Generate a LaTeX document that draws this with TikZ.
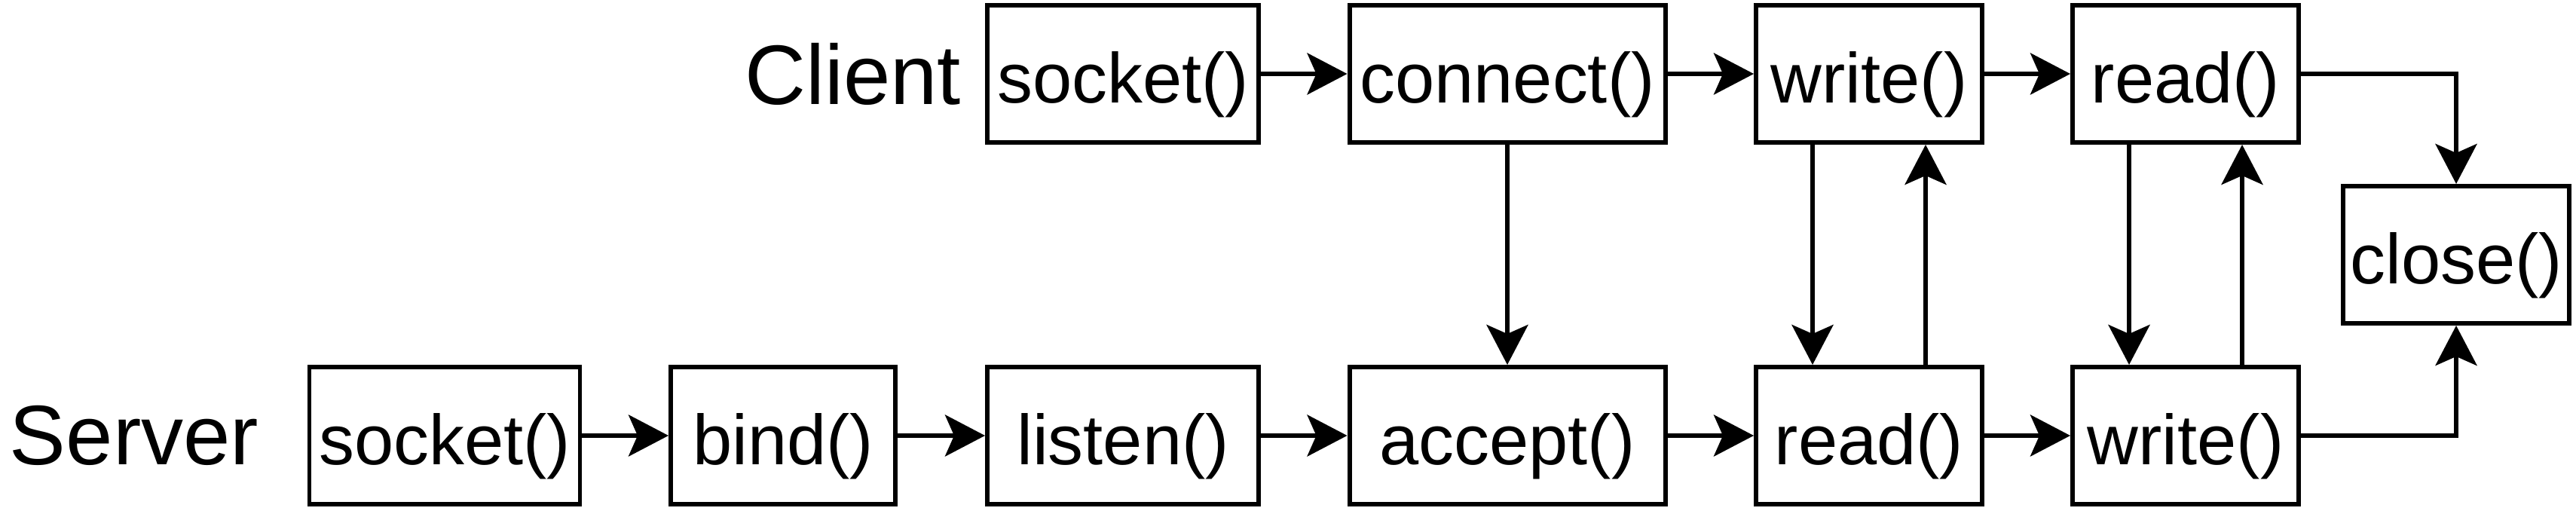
\documentclass[tikz,border=0pt]{standalone}
\usepackage{fontspec}
\setmainfont{Liberation Sans}
\usepackage{tikz}
\usetikzlibrary{arrows.meta}

\begin{document}
\begin{tikzpicture}[->, >={Stealth[length=0.53cm, width=0.55cm, inset=0.12cm]}, line width=1.7pt,
    box/.style={draw, line width=1.7pt, rectangle, inner sep=0pt, minimum height=1.82cm,
      minimum width=3cm, text height=0.98cm, text depth=0.2cm, font=\fontsize{26.7}{30}\selectfont},
    side/.style={inner sep=0pt, font=\fontsize{31.9}{36}\selectfont}]
    \useasboundingbox (0,0) rectangle (34.18,6.82);
    % client row
    \node[side, anchor=east] (client) at (12.78,5.84) {Client};
    \node[box, minimum width=3.6cm] (csock) at (14.9,5.84) {socket()};
    \node[box, minimum width=4.19cm] (conn) at (20.0,5.84) {connect()};
    \node[box] (cwrite) at (24.8,5.84) {write()};
    \node[box] (cread) at (29.0,5.84) {read()};
    \node[box] (close) at (32.59,3.44) {close()};
    % server row
    \node[side, anchor=west] (server) at (0.1,1.04) {Server};
    \node[box, minimum width=3.59cm] (ssock) at (5.9,1.04) {socket()};
    \node[box, minimum width=2.98cm] (bind) at (10.39,1.04) {bind()};
    \node[box, minimum width=3.6cm] (listen) at (14.9,1.04) {listen()};
    \node[box, minimum width=4.19cm] (accept) at (20.0,1.04) {accept()};
    \node[box] (sread) at (24.8,1.04) {read()};
    \node[box] (swrite) at (29.0,1.04) {write()};
    \path
      (csock) edge (conn)
      (conn) edge (cwrite)
      (cwrite) edge (cread)
      (ssock) edge (bind)
      (bind) edge (listen)
      (listen) edge (accept)
      (accept) edge (sread)
      (sread) edge (swrite)
      (conn) edge (accept)
      ([xshift=-0.75cm]cwrite.south) edge ([xshift=-0.75cm]sread.north)
      ([xshift=0.75cm]sread.north) edge ([xshift=0.75cm]cwrite.south)
      ([xshift=-0.75cm]cread.south) edge ([xshift=-0.75cm]swrite.north)
      ([xshift=0.75cm]swrite.north) edge ([xshift=0.75cm]cread.south);
    \draw (cread) -| (close);
    \draw (swrite) -| (close);
  \end{tikzpicture}
\end{document}
